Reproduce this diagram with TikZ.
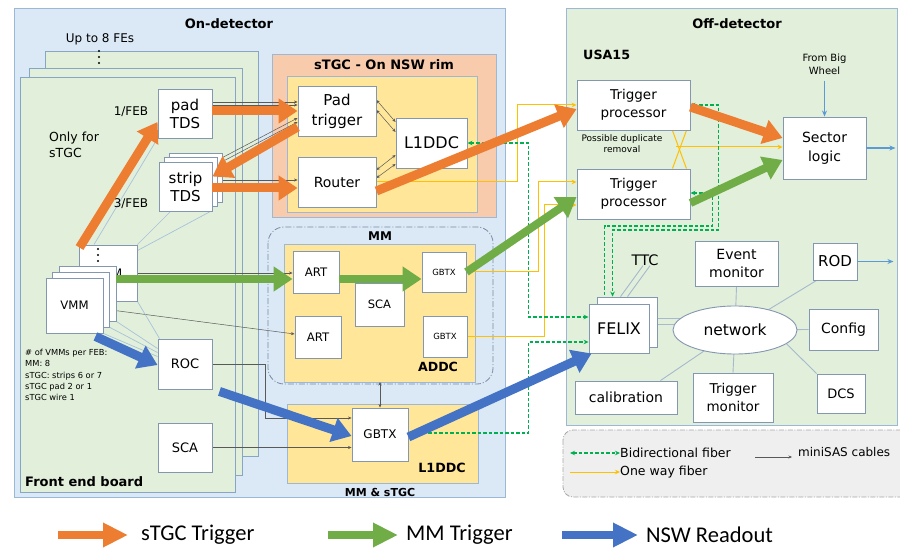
\documentclass[tikz,border=0pt]{standalone}
\usepackage{fontspec}
\setmainfont{DejaVu Sans}
\newfontfamily\legendfont{Carlito}
\usetikzlibrary{arrows.meta,calc,shapes.geometric}
\pgfdeclarelayer{regions}
\pgfdeclarelayer{wires}
\pgfsetlayers{regions,wires,main}

\definecolor{ondet}{HTML}{DBE8F5}
\definecolor{ondetb}{HTML}{9DB8D6}
\definecolor{boardc}{HTML}{E2EFDA}
\definecolor{boardb}{HTML}{86A6C4}
\definecolor{rimc}{HTML}{F8CBAD}
\definecolor{yelbox}{HTML}{FFE699}
\definecolor{boxc}{HTML}{8497B0}
\definecolor{orangec}{HTML}{ED7D31}
\definecolor{greenc}{HTML}{70AD47}
\definecolor{bluec}{HTML}{4472C4}
\definecolor{lblue}{HTML}{5B9BD5}
\definecolor{yelw}{HTML}{FFC000}
\definecolor{fib}{HTML}{00B050}
\definecolor{sasc}{HTML}{595959}
\definecolor{fewire}{HTML}{A6C3DD}
\definecolor{netw}{HTML}{A5B9CF}
\definecolor{legc}{HTML}{EFEFEF}
\definecolor{legb}{HTML}{A8A8A8}
\definecolor{mmdash}{HTML}{7A8CA5}

\newcommand\fsz[2]{\fontsize{#1}{#2}\selectfont}

\tikzset{
  blk/.style={draw=boxc, fill=white, line width=0.9pt, inner sep=0pt, align=center},
  ttl/.style={inner sep=0pt, align=center},
  fat/.style={line width=9pt, -{Triangle[length=19pt,width=24pt]}},
  ofat/.style={fat, draw=orangec, fill=orangec},
  gfat/.style={fat, draw=greenc, fill=greenc, line width=8pt},
  bfat/.style={fat, draw=bluec, fill=bluec},
  lgfat/.style={line width=8pt, -{Triangle[length=25pt,width=23pt]}},
  sas/.style={draw=sasc, line width=0.5pt, -{Stealth[length=3.5pt,width=3pt]}},
  sasboth/.style={draw=sasc, line width=0.5pt, {Stealth[length=3.5pt,width=3pt]}-{Stealth[length=3.5pt,width=3pt]}},
  fel/.style={draw=fewire, line width=0.7pt},
  netl/.style={draw=netw, line width=0.9pt},
  oneway/.style={draw=yelw, line width=1pt, -{Stealth[length=5pt,width=4.5pt]}},
  bidir/.style={draw=fib, line width=1.1pt, dash pattern=on 3.5pt off 2pt,
    {Stealth[length=5pt,width=4.5pt]}-{Stealth[length=5pt,width=4.5pt]}},
  thinblue/.style={draw=lblue, line width=1.3pt, -{Stealth[length=6pt,width=5pt]}},
  board/.style={draw=boardb, fill=boardc, line width=1pt},
}

\begin{document}
\begin{tikzpicture}[x=1pt,y=-1pt]
\useasboundingbox (0,0) rectangle (900,548);

% ---------- regions ----------
\begin{pgfonlayer}{regions}
  \fill[white] (0,0) rectangle (900,548);
  \draw[draw=ondetb, fill=ondet, line width=1pt] (14,9) rectangle (505,497);
  \draw[draw=ondetb, fill=boardc, line width=1pt] (566,9) rectangle (897,425);
  \begin{scope}
    \clip (0,0) rectangle (900,548);
    \draw[draw=legb, fill=legc, line width=0.8pt, rounded corners=10pt,
          dash pattern=on 5pt off 1.5pt on 1pt off 1.5pt] (563,430) rectangle (915,497);
  \end{scope}
  % front end boards
  \draw[board] (45,52) rectangle (258,456);
  \draw[board] (29,69) rectangle (242,475);
  \draw[board] (20,78) rectangle (235,492);
  % sTGC rim
  \draw[draw=ondetb, fill=rimc, line width=1pt] (272,55) rectangle (496,218);
  \draw[draw=ondetb, fill=yelbox, line width=1pt] (287,77) rectangle (477,213);
  % MM
  \draw[draw=mmdash, line width=0.8pt, rounded corners=16pt,
        dash pattern=on 6pt off 2pt on 1pt off 2pt] (268,227) rectangle (493,384);
  \draw[draw=ondetb, fill=yelbox, line width=1pt] (284,245) rectangle (475,382);
  \coordinate (addcbot) at (380,382);
  % L1DDC
  \draw[draw=ondetb, fill=yelbox, line width=1pt] (287,404) rectangle (478,483);
\end{pgfonlayer}

% ---------- titles ----------
\node[ttl, font=\bfseries\fsz{13}{15}] (ondetl) at (229,24) {On-detector};
\node[ttl, font=\bfseries\fsz{13}{15}] (offdetl) at (737,24) {Off-detector};
\node[ttl, anchor=west, font=\bfseries\fsz{12.7}{15}] (usa) at (583,55) {USA15};
\node[ttl, font=\fsz{12}{14}] (upto) at (100,39) {Up to 8 FEs};
\foreach \yy in {51,57,63} \fill (99,\yy) circle (1.2);
\node[ttl, anchor=west, align=left, font=\fsz{12.5}{16}] (only) at (49,145) {Only for\\sTGC};
\node[ttl, font=\fsz{12}{14}] (feb1) at (131,112) {1/FEB};
\node[ttl, font=\fsz{12}{14}] (feb3) at (131,204) {3/FEB};
\node[ttl, anchor=west, font=\bfseries\fsz{13}{15}] (febl) at (25,482) {Front end board};
\node[ttl, anchor=north west, align=left, font=\fsz{8.3}{11.3}] (nvmm) at (25,349)
  {\# of VMMs per FEB:\\MM: 8\\sTGC: strips 6 or 7\\sTGC pad 2 or 1\\sTGC wire 1};
\node[ttl, font=\bfseries\fsz{13}{15}] (rim) at (384,65) {sTGC - On NSW rim};
\node[ttl, font=\bfseries\fsz{12}{14}] (mml) at (380,236) {MM};
\node[ttl, font=\bfseries\fsz{12.6}{14}] (addcl) at (438,367) {ADDC};
\node[ttl, font=\bfseries\fsz{12.7}{14}] (l1l) at (442,468) {L1DDC};
\node[ttl, font=\bfseries\fsz{11}{13}] (mmstgc) at (380,492) {MM \& sTGC};
\node[ttl, font=\fsz{9}{11}] (dup) at (622,143.5) {Possible duplicate\\removal};
\node[ttl, font=\fsz{10}{13}] (fbw) at (824.5,64) {From Big\\Wheel};
\node[ttl, font=\fsz{14.5}{16}] (ttc) at (645,260) {TTC};

% ---------- front end board ----------
\node[blk, minimum width=54pt, minimum height=49pt, font=\fsz{15}{18}] (padtds) at (185,113.5) {pad\\TDS};
\node[blk, minimum width=53pt, minimum height=49pt] (strip3) at (195.5,177.5) {};
\node[blk, minimum width=53pt, minimum height=49pt] (strip2) at (190.5,182) {};
\node[blk, minimum width=53pt, minimum height=49pt, font=\fsz{15}{18}] (strip1) at (185.5,186.5) {strip\\TDS};
\node[blk, minimum width=58pt, minimum height=56pt, font=\fsz{11.7}{14}] (vmmb) at (108,273) {VMM};
\foreach \yy in {249,255,261} \fill (98,\yy) circle (1.2);
\node[blk, minimum width=57pt, minimum height=55pt] (vmm3) at (87.5,293.5) {};
\node[blk, minimum width=57pt, minimum height=55pt] (vmm2) at (81,299.5) {};
\node[blk, minimum width=57pt, minimum height=55pt, font=\fsz{11.7}{14}] (vmm1) at (74.5,305.5) {VMM};
\node[blk, minimum width=54pt, minimum height=50pt, font=\fsz{13}{15}] (roc) at (185,364) {ROC};
\node[blk, minimum width=54pt, minimum height=49pt, font=\fsz{13}{15}] (scafe) at (185,447.5) {SCA};

% ---------- rim / MM / L1DDC ----------
\node[blk, minimum width=78pt, minimum height=50pt, font=\fsz{15}{20}] (padtrig) at (337,111) {Pad\\trigger};
\node[blk, minimum width=78pt, minimum height=50pt, font=\fsz{14}{16}] (router) at (337,182) {Router};
\node[blk, minimum width=71pt, minimum height=50pt, font=\fsz{16}{18}] (l1s) at (431.5,143) {L1DDC};
\node[blk, minimum width=46pt, minimum height=42pt, font=\fsz{11.7}{14}] (art1) at (316,272) {ART};
\node[blk, minimum width=46pt, minimum height=42pt, font=\fsz{11.7}{14}] (art2) at (318,337) {ART};
\node[blk, minimum width=49pt, minimum height=43pt, font=\fsz{11.5}{14}] (scaa) at (379.5,304.5) {SCA};
\node[blk, minimum width=44pt, minimum height=40pt, font=\fsz{8.5}{10}] (gbtx1) at (444,272) {GBTX};
\node[blk, minimum width=44pt, minimum height=41pt, font=\fsz{8.5}{10}] (gbtx2) at (445,336.5) {GBTX};
\node[blk, minimum width=56pt, minimum height=53pt, font=\fsz{12}{14}] (gbtxl) at (380,434.5) {GBTX};

% ---------- off-detector ----------
\node[blk, minimum width=113pt, minimum height=50pt, font=\fsz{13.5}{18}] (tp1) at (633.5,105) {Trigger\\processor};
\node[blk, minimum width=113pt, minimum height=50pt, font=\fsz{13.5}{18}] (tp2) at (633.5,194) {Trigger\\processor};
\node[blk, minimum width=83pt, minimum height=62pt, font=\fsz{14}{19}] (sector) at (824.5,148) {Sector\\logic};
\node[blk, minimum width=60pt, minimum height=50pt] (felixb) at (627,322) {};
\node[blk, minimum width=60pt, minimum height=49pt, font=\fsz{16}{18}] (felix) at (619,328.5) {FELIX};
\node[draw=boxc, fill=white, line width=0.9pt, ellipse, inner sep=0pt,
      minimum width=124pt, minimum height=48pt, font=\fsz{15.5}{18}] (net) at (735,330) {network};
\node[blk, minimum width=83pt, minimum height=45pt, font=\fsz{14}{18}] (evm) at (736.5,263.5) {Event\\monitor};
\node[blk, minimum width=44pt, minimum height=37pt, font=\fsz{15}{17}] (rod) at (835,261.5) {ROD};
\node[blk, minimum width=69pt, minimum height=41pt, font=\fsz{14}{16}] (config) at (843.5,329.5) {Config};
\node[blk, minimum width=48pt, minimum height=39pt, font=\fsz{13}{15}] (dcs) at (841,393.5) {DCS};
\node[blk, minimum width=80pt, minimum height=49pt, font=\fsz{13.5}{18}] (trm) at (733,397.5) {Trigger\\monitor};
\node[blk, minimum width=102pt, minimum height=33pt, font=\fsz{14}{16}] (calib) at (626,397.5) {calibration};

% ---------- wires ----------
\begin{pgfonlayer}{wires}
  % miniSAS cables
  \draw[sas] ([yshift=11.5pt]padtds.east) -- ([yshift=9pt]padtrig.west);
  \draw[sas] ([yshift=8.5pt]padtds.east) -- ([yshift=6pt]padtrig.west);
  \draw[sas] ([yshift=-5pt]strip3.north east) -- ([yshift=-7pt]padtrig.west);
  \draw[sas] ([yshift=-9pt]strip3.north east) -- ([yshift=-11pt]padtrig.west);
  \draw[sas] ([yshift=-2.5pt]strip3.east) -- ([yshift=2pt]router.west);
  \draw[sasboth] ([yshift=11pt]padtrig.east) -- ([yshift=21pt]l1s.west);
  \draw[sasboth] ([yshift=1pt]padtrig.east) -- ([yshift=11pt]l1s.west);
  \draw[sasboth] ([yshift=12pt]router.east) -- ([yshift=-12pt]l1s.west);
  \draw[sasboth] ([yshift=4pt]router.east) -- ([yshift=-21pt]l1s.west);
  \draw[sas] (vmmb.east) -- (vmmb.east -| art1.west);
  \draw[sas] ([yshift=-3.5pt]vmm1.east) -- ([yshift=3pt]art2.west);
  \draw[sas] (roc.east) -- ++(53,0) |- ([yshift=16.5pt]gbtxl.west);
  \draw[sas] (scafe.east) -- (scafe.east -| gbtxl.west);
  \draw[sasboth] (gbtxl.north) -- (addcbot);
  % on-board traces
  \draw[fel] ([xshift=-14pt]vmmb.north) -- (padtds.south west);
  \draw[fel] (vmmb.north east) -- ([xshift=12pt]strip1.south west);
  \draw[fel] ([yshift=-6pt]vmmb.north east) -- ([xshift=-2pt]strip1.south east);
  \draw[fel] (vmm1.south east) -- ([yshift=-18pt]roc.north west);
  \draw[fel] (vmm2.south east) -- ([yshift=-14pt]roc.north west);
  \draw[fel] (vmm3.south east) -- ([yshift=-10pt]roc.north west);
  \draw[fel] (vmmb.south east) -- ([xshift=2pt]roc.north west);
  % one way fibers
  \draw[oneway] (router.east) -- ++(141,0) |- (tp1.west);
  \draw[oneway] (gbtx1.east) -- ++(72,0) |- ([yshift=12pt]tp2.west);
  \draw[oneway] (gbtx2.east) -- ++(77,0) |- ([yshift=-11pt]tp2.west);
  \draw[draw=yelw, line width=1pt] ([xshift=-18pt]tp1.south east) -- ([xshift=-4pt]tp2.north east);
  \draw[draw=yelw, line width=1pt] ([xshift=-4pt]tp1.south east) -- ([xshift=-18pt]tp2.north east);
  \coordinate (xc) at (676,147);
  \draw[oneway] (xc) -- (xc -| sector.west);
  % bidirectional fibers
  \draw[bidir] (l1s.east) -- ++(61,0) |- ([yshift=11.5pt]felix.west);
  \draw[bidir] ([yshift=1.5pt]gbtxl.east) -- ++(120,0) |- ([yshift=-13.5pt]felix.west);
  \draw[bidir] (tp1.east) -- ++(28,0) -- ++(0,125) -| ([xshift=16pt]felixb.north west);
  \draw[bidir] ([yshift=1pt]tp2.east) -- ++(22,0) -- ++(0,33) -| ([xshift=16pt]felix.north west);
  % network
  \draw[netl] ([yshift=4pt]felixb.east) -- ++(24,0);
  \draw[netl] ([yshift=-2pt]felixb.east) -- ++(24,0);
  \draw[netl] (evm.south) -- (net.center);
  \draw[netl] (trm.north) -- (net.center);
  \draw[netl] (config.west) -- (net.center);
  \draw[netl] ([xshift=4pt]rod.south west) -- (net.center);
  \draw[netl] (dcs.north west) -- (net.-15);
  \draw[netl] ([xshift=-17pt]calib.north east) -- (net.center);
  \draw[netl] ([xshift=-2pt]ttc.south) -- ([xshift=24pt]felixb.north west);
  \draw[netl] ([xshift=5pt]ttc.south) -- ([xshift=31pt]felixb.north west);
\end{pgfonlayer}

% ---------- output arrows ----------
\draw[thinblue] (rod.east) -- ++(36,0);
\draw[thinblue] (sector.east) -- ++(29,0);
\draw[thinblue] ([yshift=-6pt]fbw.south) -- (sector.north);

% ---------- data paths ----------
\draw[ofat] ([xshift=1pt,yshift=-3pt]vmmb.north west) -- ([yshift=-8.5pt]padtds.west);
\draw[ofat] ([yshift=2.5pt]padtds.east) -- (padtrig.west);
\draw[ofat] ([yshift=-16pt]padtrig.west) -- ([yshift=10pt]strip1.east);
\draw[ofat] ([yshift=-1.5pt]strip1.east) -- ([yshift=-6pt]router.west);
\draw[ofat] ([yshift=-9pt]router.east) -- ([yshift=-4pt]tp1.west);
\draw[ofat] ([yshift=-2pt]tp1.east) -- ([yshift=10pt]sector.west);

\draw[gfat] ([yshift=14.5pt]vmm3.east) -- ([yshift=-7pt]art1.west);
\draw[gfat] ([yshift=-7pt]art1.east) -- ([yshift=-7pt]gbtx1.west);
\draw[gfat] (gbtx1.east) -- ([yshift=-3pt]tp2.west);
\draw[gfat] ([yshift=-9pt]tp2.east) -- ([yshift=-12pt]sector.west);

\draw[bfat] ([xshift=-8pt,yshift=-3pt]vmm1.south east) -- ([yshift=-1pt]roc.west);
\draw[bfat] ([xshift=7pt,yshift=-2pt]roc.south east) -- ([yshift=-1.5pt]gbtxl.west);
\draw[bfat] ([yshift=-2.5pt]gbtxl.east) -- ([xshift=3pt]felix.south west);

% ---------- fiber legend ----------
\coordinate (lg1a) at (570,453); \coordinate (lg1b) at (620,453);
\coordinate (lg2a) at (570,472); \coordinate (lg2b) at (620,472);
\coordinate (lg3a) at (755,457); \coordinate (lg3b) at (792,457);
\draw[bidir] (lg1a) -- (lg1b);
\draw[oneway] (lg2a) -- (lg2b);
\draw[sas] (lg3a) -- (lg3b);
\node[ttl, anchor=west, font=\fsz{12.5}{14}] (lgt1) at (lg1b) {Bidirectional fiber};
\node[ttl, anchor=west, font=\fsz{12.5}{14}] (lgt2) at (lg2b) {One way fiber};
\node[ttl, anchor=west, font=\fsz{12}{14}] (lgt3) at (798,452) {miniSAS cables};

% ---------- colour legend ----------
\coordinate (ka) at (58,535); \coordinate (kb) at (128,535);
\coordinate (kc) at (328,535); \coordinate (kd) at (398,535);
\coordinate (ke) at (562,535); \coordinate (kf) at (638,535);
\draw[lgfat, draw=orangec, fill=orangec] (ka) -- (kb);
\draw[lgfat, draw=greenc, fill=greenc] (kc) -- (kd);
\draw[lgfat, draw=bluec, fill=bluec] (ke) -- (kf);
\node[ttl, anchor=west, font=\legendfont\fsz{22.5}{26}] (kt1) at (141,535) {sTGC Trigger};
\node[ttl, anchor=west, font=\legendfont\fsz{22.5}{26}] (kt2) at (406,535) {MM Trigger};
\node[ttl, anchor=west, font=\legendfont\fsz{22.5}{26}] (kt3) at (646,535) {NSW Readout};
\end{tikzpicture}
\end{document}
